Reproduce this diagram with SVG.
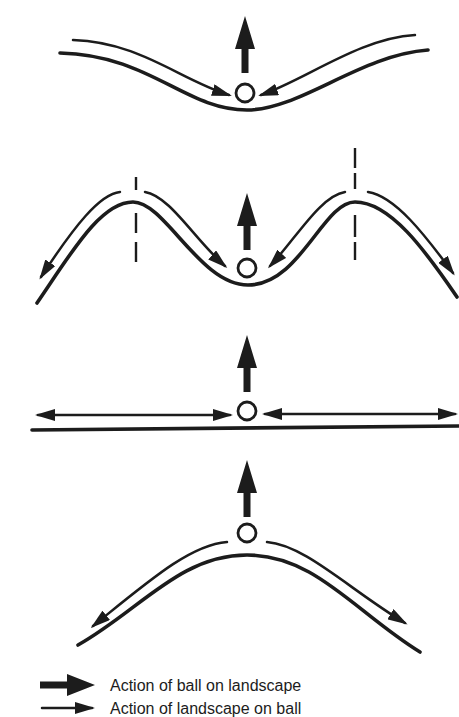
<svg xmlns="http://www.w3.org/2000/svg" width="459" height="717" viewBox="0 0 459 717">
<style>
.ground{fill:none;stroke:#1c1c1c;stroke-width:3.6;stroke-linecap:round}
.act{fill:none;stroke:#1c1c1c;stroke-width:2.5;stroke-linecap:round}
.actend{marker-end:url(#ah)}
.actboth{marker-start:url(#ah);marker-end:url(#ah)}
.ball{fill:#fff;stroke:#1c1c1c;stroke-width:2.8}
.thick{fill:#1c1c1c}
.dash{fill:none;stroke:#1c1c1c;stroke-width:2.4}
.lbl{font-family:"Liberation Sans",Arial,sans-serif;font-size:16px;fill:#1c1c1c}
</style>
<defs>
<marker id="ah" viewBox="0 0 20 12" refX="17" refY="6" markerWidth="20" markerHeight="12" markerUnits="userSpaceOnUse" orient="auto-start-reverse">
<path d="M0,0 L20,6 L0,12 Z" fill="#1c1c1c"/>
</marker>
<path id="up" d="M0,0 L10,33 L3.5,33 L3.5,57 L-3.5,57 L-3.5,33 L-10,33 Z"/>
</defs>
<rect width="459" height="717" fill="#fff"/>

<g id="panel1">
<path class="ground" d="M60,53 C150,55 185,110 247,110 C300,110 360,55 428,50"/>
<g id="connectors1">
<path class="act actend" d="M73,40 C140,42 180,80 229,95"/>
<path class="act actend" d="M415,35 C360,38 305,80 261,95"/>
<use href="#up" class="thick" x="245" y="16"/>
</g>
<circle id="ball1" class="ball" cx="245" cy="93" r="9"/>
</g>

<g id="panel2">
<path class="ground" d="M37,303 C70,255 100,202 133,202 C165,202 200,285 248,285 C300,285 323,202 355,202 C390,202 425,250 457,297"/>
<g class="dash">
<path d="M136,177 V190 M136,213 V233 M136,242 V262"/>
<path d="M355,148 V168 M355,173 V189 M355,215 V237 M355,242 V260"/>
</g>
<g id="connectors2">
<path class="act actend" d="M120,192 C100,194 75,225 41,277"/>
<path class="act actend" d="M145,192 C170,196 195,240 225,266"/>
<path class="act actend" d="M345,192 C320,196 295,240 270,266"/>
<path class="act actend" d="M368,192 C395,196 425,235 453,273"/>
<use href="#up" class="thick" x="247" y="193"/>
</g>
<circle id="ball2" class="ball" cx="247" cy="268" r="9"/>
</g>

<g id="panel3">
<path class="ground" d="M32,430 L459,426"/>
<g id="connectors3">
<path class="act actboth" d="M38,415 L230,415"/>
<path class="act actboth" d="M265,414 L455,414"/>
<use href="#up" class="thick" x="247" y="335"/>
</g>
<circle id="ball3" class="ball" cx="247" cy="411" r="9"/>
</g>

<g id="panel4">
<path class="ground" d="M78,645 C140,610 180,555 247,555 C315,555 355,612 420,652"/>
<g id="connectors4">
<path class="act actend" d="M227,542 C190,545 150,580 93,626"/>
<path class="act actend" d="M267,542 C305,545 350,590 405,623"/>
<use href="#up" class="thick" x="247" y="460"/>
</g>
<circle id="ball4" class="ball" cx="247" cy="533" r="9"/>
</g>

<g id="legend">
<path class="thick" d="M95,685 L67,674 L67,681.5 L40,681.5 L40,688.5 L67,688.5 L67,696 Z"/>
<path class="act actend" d="M42,708 L92,708"/>
<text class="lbl" x="110" y="691">Action of ball on landscape</text>
<text class="lbl" x="110" y="714">Action of landscape on ball</text>
</g>
</svg>
